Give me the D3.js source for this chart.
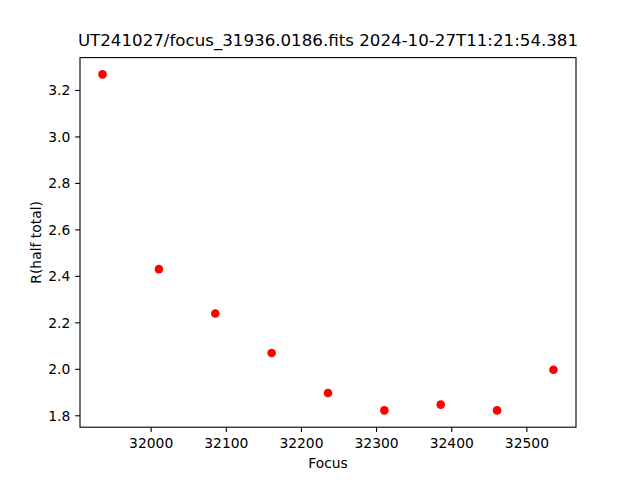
<!DOCTYPE html>
<html>
<head>
<meta charset="utf-8">
<script src="https://cdn.jsdelivr.net/npm/d3@7"></script>
<style>
  html, body { margin: 0; padding: 0; background: #fff; }
  svg { display: block; }
  text { font-family: "DejaVu Sans", sans-serif; fill: #000; }
</style>
</head>
<body>
<svg id="chart" width="640" height="480"></svg>
<script>
const titleText = "UT241027/focus_31936.0186.fits 2024-10-27T11:21:54.381";
const xLabel = "Focus";
const yLabel = "R(half total)";
const focusValues = [31936, 32011, 32086, 32161, 32236, 32311, 32386, 32461, 32536];
const radiusValues = [3.267, 2.429, 2.238, 2.068, 1.896, 1.821, 1.846, 1.821, 1.996];
const xTicks = [32000, 32100, 32200, 32300, 32400, 32500];
const yTicks = [1.8, 2.0, 2.2, 2.4, 2.6, 2.8, 3.0, 3.2];

(function () {
const W = 640, H = 480;
const pL = 80, pR = 576, pT = 57.6, pB = 427.2;
const fs = "13.89px";

const xMin = d3.min(focusValues), xMax = d3.max(focusValues);
const yMin = d3.min(radiusValues), yMax = d3.max(radiusValues);
const xPad = (xMax - xMin) * 0.05, yPad = (yMax - yMin) * 0.05;

const x = d3.scaleLinear().domain([xMin - xPad, xMax + xPad]).range([pL, pR]);
const y = d3.scaleLinear().domain([yMin - yPad, yMax + yPad]).range([pB, pT]);

const svg = d3.select("#chart");
svg.append("rect").attr("width", W).attr("height", H).attr("fill", "#fff");

// points
svg.append("g").selectAll("circle")
  .data(focusValues.map((f, i) => [f, radiusValues[i]]))
  .join("circle")
  .attr("cx", d => x(d[0]))
  .attr("cy", d => y(d[1]))
  .attr("r", 4.3)
  .attr("fill", "#ff0000");

// axes
const xAxis = d3.axisBottom(x).tickValues(xTicks).tickFormat(d3.format("d")).tickSize(4.86).tickPadding(4.86);
const yAxis = d3.axisLeft(y).tickValues(yTicks).tickFormat(d3.format(".1f")).tickSize(4.86).tickPadding(4.86);

const gx = svg.append("g").attr("transform", `translate(0,${pB})`).call(xAxis);
const gy = svg.append("g").attr("transform", `translate(${pL},0)`).call(yAxis);
[gx, gy].forEach(g => {
  g.select(".domain").remove();
  g.selectAll(".tick line").attr("stroke", "#000").attr("stroke-width", 1.1);
  g.selectAll(".tick text").attr("font-size", fs).attr("font-family", "DejaVu Sans, sans-serif").attr("fill", "#000");
});
gx.selectAll(".tick text").attr("dy", null).attr("y", 21);
gy.selectAll(".tick text").attr("dy", null).attr("y", 5);

// frame
svg.append("rect")
  .attr("x", pL).attr("y", pT)
  .attr("width", pR - pL).attr("height", pB - pT)
  .attr("fill", "none").attr("stroke", "#000").attr("stroke-width", 1.1);

// labels
svg.append("text").attr("x", (pL + pR) / 2).attr("y", 46)
  .attr("text-anchor", "middle").attr("font-size", "16.67px").text(titleText);
svg.append("text").attr("x", (pL + pR) / 2).attr("y", 467.5)
  .attr("text-anchor", "middle").attr("font-size", fs).text(xLabel);
svg.append("text")
  .attr("transform", `translate(40.5,${(pT + pB) / 2}) rotate(-90)`)
  .attr("text-anchor", "middle").attr("font-size", fs).text(yLabel);
})();
</script>
</body>
</html>
